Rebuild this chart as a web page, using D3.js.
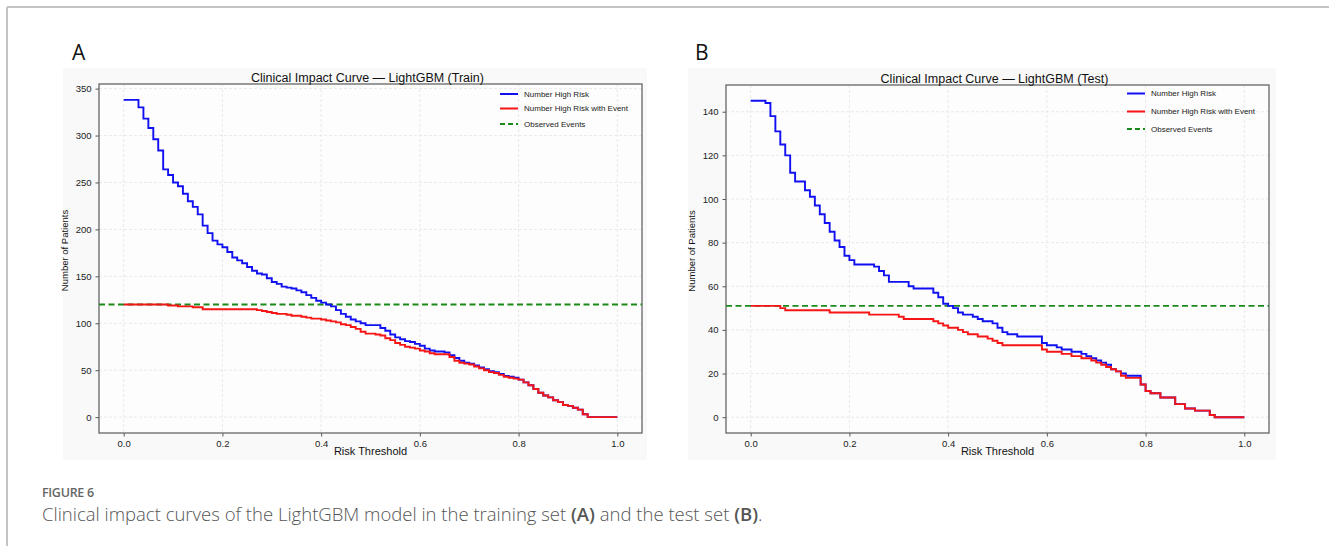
<!DOCTYPE html>
<html>
<head>
<meta charset="utf-8">
<script src="https://cdn.jsdelivr.net/npm/d3@7"></script>
<style>
  body { margin: 0; background: #fff; }
  svg { display: block; }
</style>
</head>
<body>
<div id="chart"></div>
<script>
// Clinical impact curves, LightGBM train / test

// risk thresholds shared by every series
const thresholds = [
  0.00, 0.01, 0.02, 0.03, 0.04, 0.05, 0.06, 0.07, 0.08, 0.09,
  0.10, 0.11, 0.12, 0.13, 0.14, 0.15, 0.16, 0.17, 0.18, 0.19,
  0.20, 0.21, 0.22, 0.23, 0.24, 0.25, 0.26, 0.27, 0.28, 0.29,
  0.30, 0.31, 0.32, 0.33, 0.34, 0.35, 0.36, 0.37, 0.38, 0.39,
  0.40, 0.41, 0.42, 0.43, 0.44, 0.45, 0.46, 0.47, 0.48, 0.49,
  0.50, 0.51, 0.52, 0.53, 0.54, 0.55, 0.56, 0.57, 0.58, 0.59,
  0.60, 0.61, 0.62, 0.63, 0.64, 0.65, 0.66, 0.67, 0.68, 0.69,
  0.70, 0.71, 0.72, 0.73, 0.74, 0.75, 0.76, 0.77, 0.78, 0.79,
  0.80, 0.81, 0.82, 0.83, 0.84, 0.85, 0.86, 0.87, 0.88, 0.89,
  0.90, 0.91, 0.92, 0.93, 0.94, 0.95, 0.96, 0.97, 0.98, 0.99,
  1.00
];

// (A) training set
const trainHighRisk = [
  338, 338, 338, 330, 318, 308, 296, 284, 264, 258,
  250, 246, 238, 230, 224, 216, 204, 196, 188, 184,
  181, 176, 170, 167, 164, 160, 156, 153, 152, 148,
  144, 142, 139, 138, 137, 135, 133, 130, 127, 124,
  122, 120, 118, 114, 110, 107, 104, 102, 100, 98,
  98, 98, 95, 92, 88, 85, 83, 81, 80, 78,
  76, 73, 71, 70, 70, 69, 66, 63, 60, 58,
  57, 55, 53, 51, 49, 48, 46, 44, 43, 42,
  40, 37, 34, 30, 26, 23, 21, 18, 16, 13,
  12, 10, 8, 3, 0, 0, 0, 0, 0, 0,
  0
];
const trainHighRiskEvent = [
  120, 120, 120, 120, 120, 120, 120, 120, 120, 119,
  119, 118, 118, 118, 117, 117, 115, 115, 115, 115,
  115, 115, 115, 115, 115, 115, 115, 114, 113, 112,
  111, 110, 110, 109, 108, 108, 107, 106, 105, 105,
  104, 103, 102, 101, 99, 98, 96, 94, 91, 89,
  89, 88, 87, 84, 82, 79, 77, 75, 74, 73,
  71, 70, 68, 67, 67, 67, 64, 60, 58, 57,
  56, 54, 52, 50, 48, 47, 45, 43, 42, 41,
  40, 37, 34, 30, 26, 23, 21, 18, 16, 13,
  12, 10, 8, 3, 0, 0, 0, 0, 0, 0,
  0
];
const trainObserved = 120;

// (B) test set
const testHighRisk = [
  145, 145, 145, 144, 138, 131, 125, 120, 112, 108,
  108, 104, 101, 97, 93, 89, 85, 81, 78, 74,
  72, 70, 70, 70, 70, 69, 67, 65, 62, 62,
  62, 62, 60, 59, 59, 59, 59, 57, 55, 52,
  51, 50, 48, 47, 47, 46, 45, 44, 44, 43,
  41, 39, 38, 38, 37, 37, 37, 37, 37, 34,
  33, 33, 32, 31, 31, 30, 30, 29, 28, 27,
  26, 25, 24, 22, 21, 20, 19, 19, 19, 15,
  12, 11, 11, 9, 9, 9, 6, 6, 4, 4,
  3, 3, 3, 1, 0, 0, 0, 0, 0, 0,
  0
];
const testHighRiskEvent = [
  51, 51, 51, 51, 51, 51, 50, 49, 49, 49,
  49, 49, 49, 49, 49, 49, 48, 48, 48, 48,
  48, 48, 48, 48, 47, 47, 47, 47, 47, 47,
  46, 45, 45, 45, 45, 45, 45, 44, 43, 42,
  41, 41, 40, 39, 38, 38, 37, 37, 36, 35,
  34, 33, 33, 33, 33, 33, 33, 33, 33, 31,
  30, 30, 30, 29, 29, 28, 28, 27, 27, 26,
  25, 24, 23, 22, 21, 19, 18, 18, 18, 15,
  12, 11, 11, 9, 9, 9, 6, 6, 4, 4,
  3, 3, 3, 1, 0, 0, 0, 0, 0, 0,
  0
];
const testObserved = 51;

const xTicks = [0, 0.2, 0.4, 0.6, 0.8, 1.0];
const trainYTicks = [0, 50, 100, 150, 200, 250, 300, 350];
const testYTicks = [0, 20, 40, 60, 80, 100, 120, 140];
const legendLabels = ["Number High Risk", "Number High Risk with Event", "Observed Events"];

const W = 1329, H = 546;
const plotFont = "'Liberation Sans', Arial, sans-serif";

const svg = d3.select("#chart").append("svg")
  .attr("width", W)
  .attr("height", H);

// page frame (top + left rule)
svg.append("line")
  .attr("x1", 7).attr("x2", W).attr("y1", 7).attr("y2", 7)
  .style("stroke", "#c4c4c4").style("stroke-width", 2);
svg.append("line")
  .attr("x1", 7).attr("x2", 7).attr("y1", 7).attr("y2", H)
  .style("stroke", "#c4c4c4").style("stroke-width", 2);

function drawPanel(cfg) {
  const g = svg.append("g").attr("class", "panel");

  // figure background of the exported plot
  g.append("rect")
    .attr("x", cfg.bg[0]).attr("y", cfg.bg[1])
    .attr("width", cfg.bg[2] - cfg.bg[0]).attr("height", cfg.bg[3] - cfg.bg[1])
    .style("fill", "#f9f9f9");

  g.append("text")
    .attr("x", cfg.letterX).attr("y", 60)
    .style("font-family", "'Open Sans', sans-serif")
    .style("font-size", "21px")
    .style("fill", "#111")
    .text(cfg.letter);

  const x = d3.scaleLinear().domain([-0.05, 1.05]).range([cfg.left, cfg.right]);
  const y = d3.scaleLinear().domain([-cfg.yMax * 0.05, cfg.yMax * 1.05]).range([cfg.bottom, cfg.top]);

  g.append("rect")
    .attr("x", cfg.left).attr("y", cfg.top)
    .attr("width", cfg.right - cfg.left).attr("height", cfg.bottom - cfg.top)
    .style("fill", "#fdfdfd");

  //grid
  g.append("g").selectAll("line")
    .data(xTicks).enter().append("line")
    .attr("x1", d => x(d)).attr("x2", d => x(d))
    .attr("y1", cfg.top).attr("y2", cfg.bottom)
    .style("stroke", "#e4e4e4").style("stroke-dasharray", "3,2").style("stroke-width", 0.8);
  g.append("g").selectAll("line")
    .data(cfg.yTicks).enter().append("line")
    .attr("x1", cfg.left).attr("x2", cfg.right)
    .attr("y1", d => y(d)).attr("y2", d => y(d))
    .style("stroke", "#e4e4e4").style("stroke-dasharray", "3,2").style("stroke-width", 0.8);

  // axes
  const xAxis = g.append("g")
    .attr("transform", "translate(0," + cfg.bottom + ")")
    .call(d3.axisBottom(x).tickValues(xTicks).tickFormat(d3.format(".1f")).tickSizeOuter(0).tickSize(3.5).tickPadding(4));
  const yAxis = g.append("g")
    .attr("transform", "translate(" + cfg.left + ",0)")
    .call(d3.axisLeft(y).tickValues(cfg.yTicks).tickSizeOuter(0).tickSize(3.5).tickPadding(4));
  [xAxis, yAxis].forEach(a => {
    a.select(".domain").remove();
    a.selectAll("line").style("stroke", "#555");
    a.selectAll("text")
      .style("font-family", plotFont)
      .style("font-size", "9.5px")
      .style("fill", "#222");
  });

  // spines
  g.append("rect")
    .attr("x", cfg.left).attr("y", cfg.top)
    .attr("width", cfg.right - cfg.left).attr("height", cfg.bottom - cfg.top)
    .style("fill", "none").style("stroke", "#666").style("stroke-width", 1.3);

  // observed events
  g.append("line")
    .attr("x1", cfg.left).attr("x2", cfg.right)
    .attr("y1", y(cfg.observed)).attr("y2", y(cfg.observed))
    .style("stroke", "#1a8a1a").style("stroke-width", 1.8).style("stroke-dasharray", "6,3.5");

  const line = d3.line()
    .x(d => x(d[0]))
    .y(d => y(d[1]))
    .curve(d3.curveStepAfter);

  g.append("path")
    .datum(d3.zip(thresholds, cfg.highRisk))
    .attr("d", line)
    .style("fill", "none").style("stroke", "#1010f0").style("stroke-width", 1.9);
  g.append("path")
    .datum(d3.zip(thresholds, cfg.highRiskEvent))
    .attr("d", line)
    .style("fill", "none").style("stroke", "#f51515").style("stroke-width", 1.9);

  // title + labels
  g.append("text")
    .attr("x", (cfg.left + cfg.right) / 2 - 3).attr("y", cfg.top - 2.5)
    .attr("text-anchor", "middle")
    .style("font-family", plotFont).style("font-size", "12.5px").style("fill", "#111")
    .text(cfg.title);
  g.append("text")
    .attr("x", (cfg.left + cfg.right) / 2).attr("y", cfg.bottom + 22)
    .attr("text-anchor", "middle")
    .style("font-family", plotFont).style("font-size", "11px").style("fill", "#111")
    .text("Risk Threshold");
  g.append("text")
    .attr("transform", "translate(" + (cfg.left - 31) + "," + ((cfg.top + cfg.bottom) / 2 - 8) + ") rotate(-90)")
    .attr("text-anchor", "middle")
    .style("font-family", plotFont).style("font-size", "9.5px").style("fill", "#111")
    .text("Number of Patients");

  // legend
  const legColors = ["#1010f0", "#f51515", "#1a8a1a"];
  const leg = g.append("g").selectAll("g")
    .data(legendLabels).enter().append("g")
    .attr("transform", (d, i) => "translate(" + (cfg.right - 142) + "," + cfg.legendRows[i] + ")");
  leg.append("line")
    .attr("x1", 0).attr("x2", 18)
    .style("stroke", (d, i) => legColors[i])
    .style("stroke-width", 2)
    .style("stroke-dasharray", (d, i) => i === 2 ? "5,3" : null);
  leg.append("text")
    .attr("x", 24).attr("dy", "0.35em")
    .style("font-family", plotFont).style("font-size", "8px").style("fill", "#222")
    .text(d => d);
}

drawPanel({
  letter: "A", letterX: 72,
  bg: [63, 68, 647, 460],
  left: 99, right: 642, top: 84, bottom: 433,
  yMax: 338, yTicks: trainYTicks,
  observed: trainObserved,
  highRisk: trainHighRisk, highRiskEvent: trainHighRiskEvent,
  title: "Clinical Impact Curve \u2014 LightGBM (Train)",
  legendRows: [94, 108.5, 124]
});

drawPanel({
  letter: "B", letterX: 695,
  bg: [688, 68, 1276, 460],
  left: 726, right: 1269, top: 85, bottom: 433,
  yMax: 145, yTicks: testYTicks,
  observed: testObserved,
  highRisk: testHighRisk, highRiskEvent: testHighRiskEvent,
  title: "Clinical Impact Curve \u2014 LightGBM (Test)",
  legendRows: [93.5, 111.5, 129]
});

// caption
svg.append("text")
  .attr("x", 42).attr("y", 497)
  .style("font-family", "'Open Sans', sans-serif")
  .style("font-size", "12.5px").style("font-weight", 600)
  .style("letter-spacing", "-0.3px")
  .style("fill", "#666")
  .text("FIGURE 6");

const cap = svg.append("text")
  .attr("x", 42).attr("y", 521)
  .style("font-family", "'Open Sans', sans-serif")
  .style("font-size", "18.5px").style("font-weight", 300)
  .style("fill", "#555");
cap.append("tspan").text("Clinical impact curves of the LightGBM model in the training set ");
cap.append("tspan").style("font-weight", 600).text("(A)");
cap.append("tspan").text(" and the test set ");
cap.append("tspan").style("font-weight", 600).text("(B)");
cap.append("tspan").text(".");
</script>
</body>
</html>
